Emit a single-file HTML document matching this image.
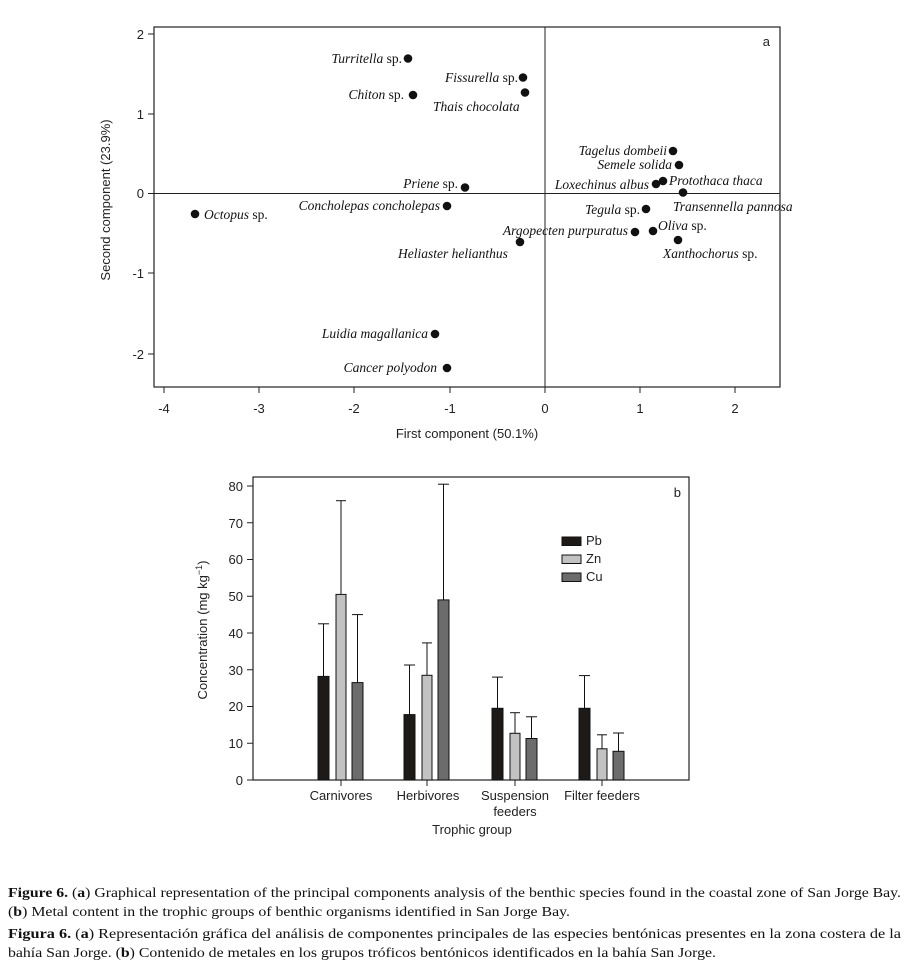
<!DOCTYPE html>
<html><head><style>
html,body{margin:0;padding:0;background:#fff;}
svg{display:block;}
.s{font-family:"Liberation Sans",sans-serif;font-size:13px;fill:#222;}
.i{font-family:"Liberation Serif",serif;font-size:13.5px;font-style:italic;fill:#111;}
.i tspan.n{font-style:normal;}
.c{font-family:"Liberation Serif",serif;font-size:13.5px;fill:#111;}
</style></head><body>
<svg width="910" height="975" viewBox="0 0 910 975" xmlns="http://www.w3.org/2000/svg">
<!-- Chart a -->
<rect x="154" y="27" width="626" height="360" fill="none" stroke="#222" stroke-width="1.2"/>
<line x1="545" y1="27" x2="545" y2="387" stroke="#222"/>
<line x1="154" y1="193.5" x2="780" y2="193.5" stroke="#222"/>
<g stroke="#222">
<line x1="164" y1="387" x2="164" y2="393"/><line x1="259" y1="387" x2="259" y2="393"/><line x1="354" y1="387" x2="354" y2="393"/><line x1="450" y1="387" x2="450" y2="393"/><line x1="545" y1="387" x2="545" y2="393"/><line x1="640" y1="387" x2="640" y2="393"/><line x1="735" y1="387" x2="735" y2="393"/>
<line x1="148" y1="34" x2="154" y2="34"/><line x1="148" y1="114" x2="154" y2="114"/><line x1="148" y1="193.5" x2="154" y2="193.5"/><line x1="148" y1="273" x2="154" y2="273"/><line x1="148" y1="354" x2="154" y2="354"/>
</g>
<g class="s" text-anchor="middle">
<text x="164" y="413">-4</text><text x="259" y="413">-3</text><text x="354" y="413">-2</text><text x="450" y="413">-1</text><text x="545" y="413">0</text><text x="640" y="413">1</text><text x="735" y="413">2</text>
</g>
<g class="s" text-anchor="end">
<text x="144" y="39">2</text><text x="144" y="119">1</text><text x="144" y="198">0</text><text x="144" y="278">-1</text><text x="144" y="359">-2</text>
</g>
<text class="s" x="467" y="438" text-anchor="middle" font-size="14">First component (50.1%)</text>
<text class="s" transform="translate(110,200) rotate(-90)" text-anchor="middle" font-size="14">Second component (23.9%)</text>
<text class="s" x="770" y="46" text-anchor="end" font-size="15">a</text>
<g fill="#111">
<circle cx="408" cy="58.5" r="4.3"/><circle cx="523" cy="77.5" r="4.3"/><circle cx="413" cy="95" r="4.3"/><circle cx="525" cy="92.5" r="4.3"/>
<circle cx="673" cy="151" r="4.3"/><circle cx="679" cy="165" r="4.3"/><circle cx="663" cy="181" r="4.3"/><circle cx="656" cy="184" r="4.3"/><circle cx="683" cy="192.5" r="4.3"/>
<circle cx="465" cy="187.5" r="4.3"/><circle cx="447" cy="206" r="4.3"/><circle cx="195" cy="214" r="4.3"/><circle cx="646" cy="209" r="4.3"/>
<circle cx="635" cy="232" r="4.3"/><circle cx="653" cy="231" r="4.3"/><circle cx="520" cy="242" r="4.3"/><circle cx="678" cy="240" r="4.3"/>
<circle cx="435" cy="334" r="4.3"/><circle cx="447" cy="368" r="4.3"/>
</g>
<g class="i">
<text x="402" y="63" text-anchor="end">Turritella<tspan class="n"> sp.</tspan></text>
<text x="518" y="82" text-anchor="end">Fissurella<tspan class="n"> sp.</tspan></text>
<text x="404" y="99" text-anchor="end">Chiton<tspan class="n"> sp.</tspan></text>
<text x="433" y="111">Thais chocolata</text>
<text x="667" y="155" text-anchor="end">Tagelus dombeii</text>
<text x="672" y="169" text-anchor="end">Semele solida</text>
<text x="669" y="185">Protothaca thaca</text>
<text x="649" y="189" text-anchor="end">Loxechinus albus</text>
<text x="673" y="211">Transennella pannosa</text>
<text x="458" y="188" text-anchor="end">Priene<tspan class="n"> sp.</tspan></text>
<text x="440" y="210" text-anchor="end">Concholepas concholepas</text>
<text x="204" y="219">Octopus<tspan class="n"> sp.</tspan></text>
<text x="640" y="214" text-anchor="end">Tegula<tspan class="n"> sp.</tspan></text>
<text x="628" y="235" text-anchor="end">Argopecten purpuratus</text>
<text x="658" y="230">Oliva<tspan class="n"> sp.</tspan></text>
<text x="398" y="258">Heliaster helianthus</text>
<text x="663" y="258">Xanthochorus<tspan class="n"> sp.</tspan></text>
<text x="428" y="338" text-anchor="end">Luidia magallanica</text>
<text x="437" y="372" text-anchor="end">Cancer polyodon</text>
</g>
<!-- Chart b -->
<rect x="253" y="477" width="436" height="303" fill="none" stroke="#222" stroke-width="1.2"/>
<g stroke="#222">
<line x1="247" y1="780" x2="253" y2="780"/><line x1="247" y1="743.25" x2="253" y2="743.25"/><line x1="247" y1="706.5" x2="253" y2="706.5"/><line x1="247" y1="669.75" x2="253" y2="669.75"/><line x1="247" y1="633" x2="253" y2="633"/><line x1="247" y1="596.25" x2="253" y2="596.25"/><line x1="247" y1="559.5" x2="253" y2="559.5"/><line x1="247" y1="522.75" x2="253" y2="522.75"/><line x1="247" y1="486" x2="253" y2="486"/>
<line x1="341" y1="780" x2="341" y2="786"/><line x1="427" y1="780" x2="427" y2="786"/><line x1="515" y1="780" x2="515" y2="786"/><line x1="602" y1="780" x2="602" y2="786"/>
</g>
<g class="s" text-anchor="end">
<text x="243" y="785">0</text><text x="243" y="748">10</text><text x="243" y="711">20</text><text x="243" y="675">30</text><text x="243" y="638">40</text><text x="243" y="601">50</text><text x="243" y="564">60</text><text x="243" y="528">70</text><text x="243" y="491">80</text>
</g>
<text class="s" transform="translate(207,630) rotate(-90)" text-anchor="middle" font-size="14">Concentration (mg kg<tspan font-size="9" dy="-5">−1</tspan><tspan dy="5">)</tspan></text>
<text class="s" x="681" y="497" text-anchor="end" font-size="15">b</text>
<g stroke="#111" stroke-width="1">
<!-- Carnivores -->
<line x1="323.5" y1="676.4" x2="323.5" y2="623.8"/><line x1="318" y1="623.8" x2="329" y2="623.8"/>
<line x1="341" y1="594.4" x2="341" y2="500.7"/><line x1="336" y1="500.7" x2="346" y2="500.7"/>
<line x1="357.5" y1="682.6" x2="357.5" y2="614.6"/><line x1="352" y1="614.6" x2="363" y2="614.6"/>
<!-- Herbivores -->
<line x1="409.5" y1="714.6" x2="409.5" y2="665"/><line x1="404" y1="665" x2="415" y2="665"/>
<line x1="427" y1="675.3" x2="427" y2="642.9"/><line x1="422" y1="642.9" x2="432" y2="642.9"/>
<line x1="443.5" y1="599.9" x2="443.5" y2="484.2"/><line x1="438" y1="484.2" x2="449" y2="484.2"/>
<!-- Suspension -->
<line x1="497.5" y1="708.3" x2="497.5" y2="677.1"/><line x1="492" y1="677.1" x2="503" y2="677.1"/>
<line x1="515" y1="733.3" x2="515" y2="712.7"/><line x1="510" y1="712.7" x2="520" y2="712.7"/>
<line x1="531.5" y1="738.5" x2="531.5" y2="716.8"/><line x1="526" y1="716.8" x2="537" y2="716.8"/>
<!-- Filter -->
<line x1="584.5" y1="708.3" x2="584.5" y2="675.6"/><line x1="579" y1="675.6" x2="590" y2="675.6"/>
<line x1="602" y1="748.8" x2="602" y2="734.8"/><line x1="597" y1="734.8" x2="607" y2="734.8"/>
<line x1="618.5" y1="751.3" x2="618.5" y2="733"/><line x1="613" y1="733" x2="624" y2="733"/>
</g>
<g stroke="#111" stroke-width="1">
<rect x="318" y="676.4" width="11" height="103.6" fill="#1e1a18"/>
<rect x="336" y="594.4" width="10" height="185.6" fill="#c2c2c2"/>
<rect x="352" y="682.6" width="11" height="97.4" fill="#6c6c6c"/>
<rect x="404" y="714.6" width="11" height="65.4" fill="#1e1a18"/>
<rect x="422" y="675.3" width="10" height="104.7" fill="#c2c2c2"/>
<rect x="438" y="599.9" width="11" height="180.1" fill="#6c6c6c"/>
<rect x="492" y="708.3" width="11" height="71.7" fill="#1e1a18"/>
<rect x="510" y="733.3" width="10" height="46.7" fill="#c2c2c2"/>
<rect x="526" y="738.5" width="11" height="41.5" fill="#6c6c6c"/>
<rect x="579" y="708.3" width="11" height="71.7" fill="#1e1a18"/>
<rect x="597" y="748.8" width="10" height="31.2" fill="#c2c2c2"/>
<rect x="613" y="751.3" width="11" height="28.7" fill="#6c6c6c"/>
<rect x="562" y="537" width="19" height="8.5" fill="#1e1a18"/>
<rect x="562" y="555" width="19" height="8.5" fill="#c2c2c2"/>
<rect x="562" y="573" width="19" height="8.5" fill="#6c6c6c"/>
</g>
<g class="s" font-size="12">
<text x="586" y="545">Pb</text><text x="586" y="563">Zn</text><text x="586" y="581">Cu</text>
</g>
<g class="s" font-size="12" text-anchor="middle">
<text x="341" y="800">Carnivores</text><text x="428" y="800">Herbivores</text><text x="515" y="800">Suspension</text><text x="515" y="816">feeders</text><text x="602" y="800">Filter feeders</text>
</g>
<text class="s" x="472" y="834" text-anchor="middle" font-size="14">Trophic group</text>
<!-- caption -->
<g class="c">
<text x="8" y="897" textLength="893" lengthAdjust="spacingAndGlyphs"><tspan font-weight="bold">Figure 6.</tspan> (<tspan font-weight="bold">a</tspan>) Graphical representation of the principal components analysis of the benthic species found in the coastal zone of San Jorge Bay.</text>
<text x="8" y="916" textLength="562" lengthAdjust="spacingAndGlyphs">(<tspan font-weight="bold">b</tspan>) Metal content in the trophic groups of benthic organisms identified in San Jorge Bay.</text>
<text x="8" y="938" textLength="893" lengthAdjust="spacingAndGlyphs"><tspan font-weight="bold">Figura 6.</tspan> (<tspan font-weight="bold">a</tspan>) Representación gráfica del análisis de componentes principales de las especies bentónicas presentes en la zona costera de la</text>
<text x="8" y="957" textLength="708" lengthAdjust="spacingAndGlyphs">bahía San Jorge. (<tspan font-weight="bold">b</tspan>) Contenido de metales en los grupos tróficos bentónicos identificados en la bahía San Jorge.</text>
</g>
</svg>
</body></html>
